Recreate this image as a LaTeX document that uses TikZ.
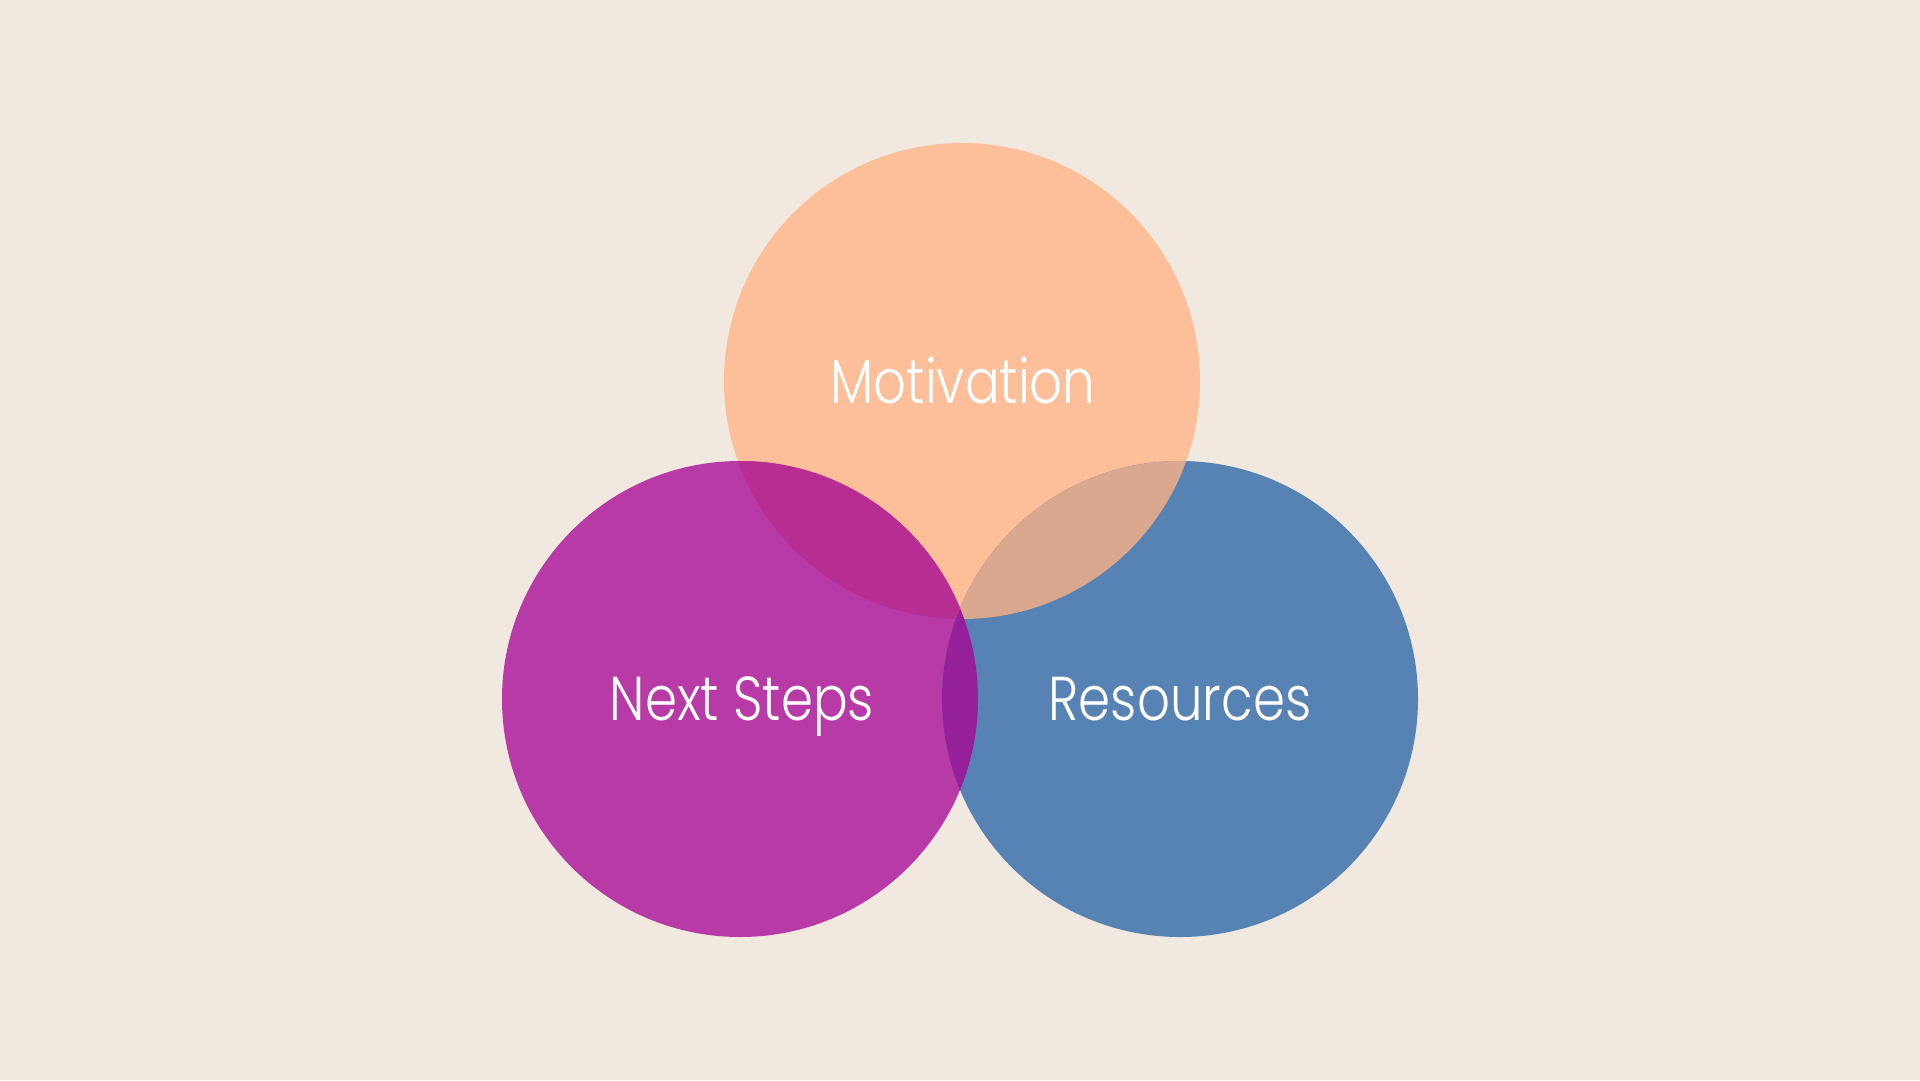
\documentclass[tikz,border=0pt]{standalone}
\usepackage{fontspec}
\newfontfamily\vfont{Poppins Light}
\definecolor{bgc}{HTML}{F1E9E0}
\definecolor{orc}{HTML}{FDBE9A}
\definecolor{mgc}{HTML}{B73AA7}
\definecolor{blc}{HTML}{5782B4}
\definecolor{mocol}{HTML}{B72E92}
\definecolor{obcol}{HTML}{DAA78F}
\definecolor{mbcol}{HTML}{962099}
\tikzset{
  lbl/.style={text=white, font=\vfont\fontsize{62}{62}\selectfont, anchor=base, inner sep=0pt, xscale=0.83},
}
\begin{document}
\begin{tikzpicture}[x=1pt,y=-1pt]
\fill[bgc] (0,0) rectangle (1920,1080);
\useasboundingbox (0,0) rectangle (1920,1080);
\def\R{238}
\coordinate (ct) at (962,381);
\coordinate (cl) at (740,699);
\coordinate (cr) at (1180,699);
\fill[orc] (ct) circle (\R);
\fill[mgc] (cl) circle (\R);
\fill[blc] (cr) circle (\R);
\begin{scope}
  \clip (ct) circle (\R);
  \fill[mocol] (cl) circle (\R);
  \fill[obcol] (cr) circle (\R);
\end{scope}
\begin{scope}
  \clip (cl) circle (\R);
  \fill[mbcol] (cr) circle (\R);
\end{scope}
\node[lbl] (mot) at (963,403) {Motivation};
\node[lbl] (nxt) at (742,720) {Next Steps};
\node[lbl] (res) at (1180,720) {Resources};
\end{tikzpicture}
\end{document}
